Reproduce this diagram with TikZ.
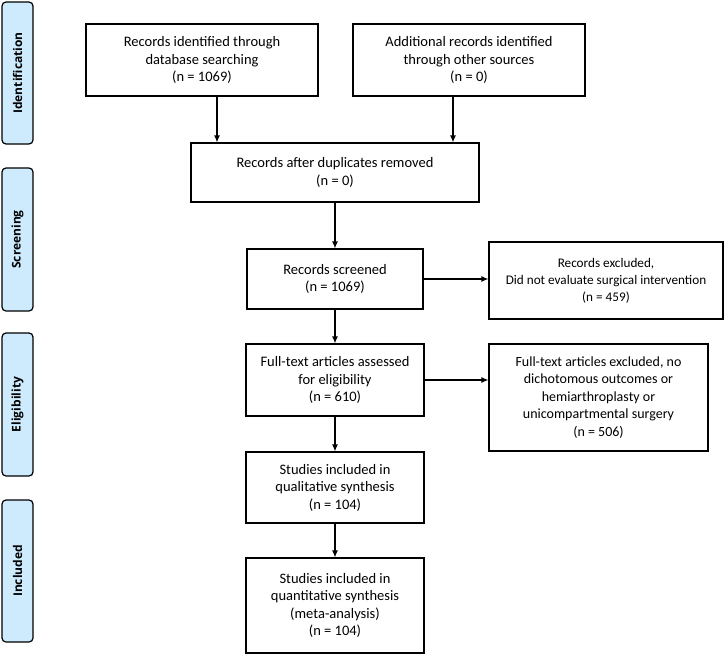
\documentclass[tikz,border=0pt]{standalone}
\usepackage{fontspec}
\setmainfont{Carlito}
\newfontfamily\phasefont{Open Sans}
\usetikzlibrary{arrows.meta}
\definecolor{phaseblue}{RGB}{206,234,253}
\tikzset{
	box/.style={draw,line width=1.2pt,align=center,inner sep=2pt,font=\fontsize{14.5}{17.5}\selectfont},
	phase/.style={draw,line width=1.2pt,fill=phaseblue,rounded corners=4pt,rotate=90,minimum height=31pt,font=\phasefont\bfseries\fontsize{12}{14}\selectfont},
	arr/.style={line width=1.2pt,-{Latex[length=7pt,width=6pt]}}
}
\begin{document}
\begin{tikzpicture}[x=1pt,y=-1pt]
	\useasboundingbox(0,0) rectangle (726,656);
	% phases
	\node[phase,minimum width=142pt] (idf) at (17.5,73) {Identification};
	\node[phase,minimum width=143pt] (scr) at (17.5,239.5) {Screening};
	\node[phase,minimum width=143pt] (elg) at (17.5,404.5) {Eligibility};
	\node[phase,minimum width=142pt] (inc) at (17.5,571) {Included};
	% boxes
	\node[box,minimum width=232pt,minimum height=72pt] (dbs) at (202,60) {Records identified through\\database searching\\(n = 1069)};
	\node[box,minimum width=232pt,minimum height=72pt] (oth) at (469,60) {Additional records identified\\through other sources\\(n = 0)};
	\node[box,minimum width=288pt,minimum height=59pt] (dup) at (335,172.5) {Records after duplicates removed\\(n = 0)};
	\node[box,minimum width=176pt,minimum height=60pt] (scrn) at (335,279) {Records screened\\(n = 1069)};
	\node[box,minimum width=234pt,minimum height=77pt,font=\fontsize{13.2}{17}\selectfont] (exc1) at (606,280.5) {Records excluded,\\Did not evaluate surgical intervention\\(n = 459)};
	\node[box,minimum width=178pt,minimum height=72pt] (full) at (335,380) {Full-text articles assessed\\for eligibility\\(n = 610)};
	\node[box,minimum width=219pt,minimum height=107pt,font=\fontsize{14}{17.5}\selectfont] (exc2) at (598.5,397.5) {Full-text articles excluded, no\\dichotomous outcomes or\\hemiarthroplasty or\\unicompartmental surgery\\(n = 506)};
	\node[box,minimum width=178pt,minimum height=71pt] (qual) at (335,487.5) {Studies included in\\qualitative synthesis\\(n = 104)};
	\node[box,minimum width=178pt,minimum height=95pt] (quan) at (335,605.5) {Studies included in\\quantitative synthesis\\(meta-analysis)\\(n = 104)};
	% arrows
	\draw[arr]([xshift=15pt]dbs.south)--([xshift=15pt]dbs.south |- dup.north);
	\draw[arr]([xshift=-16pt]oth.south)--([xshift=-16pt]oth.south |- dup.north);
	\draw[arr](dup.south)--(scrn.north);
	\draw[arr](scrn.east)--(scrn.east -| exc1.west);
	\draw[arr](scrn.south)--(full.north);
	\draw[arr](full.east)--(full.east -| exc2.west);
	\draw[arr](full.south)--(qual.north);
	\draw[arr](qual.south)--(quan.north);
\end{tikzpicture}
\end{document}
